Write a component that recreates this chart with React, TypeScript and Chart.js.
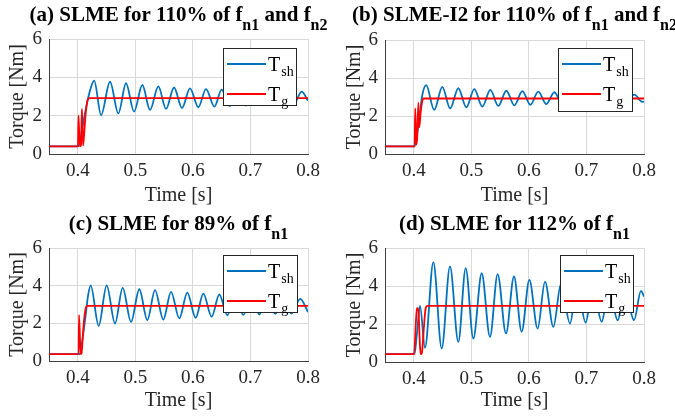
import React, { useEffect, useRef } from "react";
import { Chart, registerables } from "chart.js";
Chart.register(...registerables);

const FONT = "'Liberation Serif', 'Times New Roman', serif";
const X_MIN = 0.35;
const X_MAX = 0.8;
const xTicks = [0.4, 0.5, 0.6, 0.7, 0.8];
const yTicks = [0, 2, 4, 6];
const xLabel = "Time [s]";
const yLabel = "Torque [Nm]";
const legendNames = [
  { main: "T", sub: "sh" },
  { main: "T", sub: "g" },
];

// (a) SLME 110% fn1 & fn2
const aShT = [0.35, 0.4008, 0.4045, 0.4125, 0.42, 0.4285, 0.4405, 0.456, 0.4705, 0.4838, 0.4977, 0.5122, 0.5255, 0.54, 0.5533, 0.5672, 0.5811, 0.595, 0.6094, 0.6228, 0.6373, 0.65, 0.664, 0.678, 0.692, 0.706, 0.72, 0.733, 0.747, 0.761, 0.775, 0.789, 0.8];
const aShV = [0.4, 0.4, 0.8, 2.12, 3.17, 3.83, 2.03, 3.77, 2.12, 3.69, 2.21, 3.6, 2.3, 3.53, 2.35, 3.47, 2.4, 3.42, 2.44, 3.39, 2.47, 3.36, 2.5, 3.33, 2.52, 3.3, 2.54, 3.28, 2.56, 3.26, 2.58, 3.25, 2.78];
const aGT = [0.35, 0.4003, 0.4012, 0.4035, 0.4055, 0.4072, 0.4092, 0.411, 0.414, 0.4175, 0.4205, 0.8];
const aGV = [0.4, 0.4, 2.0, 0.4, 0.45, 2.35, 0.45, 1.0, 2.2, 2.85, 2.92, 2.92];

// (b) SLME-I2 110% fn1 & fn2
const bShT = [0.35, 0.4012, 0.405, 0.4105, 0.4145, 0.4215, 0.4355, 0.4495, 0.4633, 0.4774, 0.4913, 0.5052, 0.5191, 0.533, 0.5469, 0.5608, 0.5747, 0.5886, 0.6025, 0.6164, 0.6303, 0.6442, 0.6581, 0.672, 0.686, 0.6998, 0.714, 0.7276, 0.742, 0.7554, 0.769, 0.7832, 0.797, 0.8];
const bShV = [0.4, 0.4, 0.9, 2.1, 3.05, 3.62, 2.32, 3.53, 2.4, 3.46, 2.45, 3.41, 2.49, 3.37, 2.53, 3.33, 2.56, 3.31, 2.59, 3.28, 2.62, 3.25, 2.64, 3.22, 2.66, 3.2, 2.68, 3.18, 2.7, 3.16, 2.72, 3.12, 2.74, 2.76];
const bGT = [0.35, 0.4015, 0.4025, 0.4045, 0.406, 0.408, 0.4095, 0.412, 0.4145, 0.417, 0.8];
const bGV = [0.4, 0.4, 2.4, 0.5, 0.9, 2.7, 1.4, 2.2, 2.75, 2.92, 2.92];

// (c) SLME 89% fn1
const cShT = [0.35, 0.4035, 0.407, 0.4137, 0.418, 0.4224, 0.4363, 0.4502, 0.4647, 0.478, 0.4925, 0.5069, 0.5208, 0.5342, 0.5486, 0.562, 0.5764, 0.5903, 0.6048, 0.6181, 0.6326, 0.6459, 0.6598, 0.6737, 0.6876, 0.7015, 0.7154, 0.7293, 0.7432, 0.7571, 0.771, 0.7865, 0.8];
const cShV = [0.37, 0.37, 0.9, 2.44, 3.5, 4.02, 1.87, 4.02, 1.99, 3.88, 2.08, 3.81, 2.17, 3.76, 2.2, 3.67, 2.26, 3.63, 2.29, 3.58, 2.35, 3.53, 2.43, 3.48, 2.45, 3.44, 2.47, 3.4, 2.5, 3.35, 2.52, 3.3, 2.6];
const cGT = [0.35, 0.4015, 0.4022, 0.405, 0.4065, 0.4085, 0.411, 0.4135, 0.416, 0.8];
const cGV = [0.37, 0.37, 2.44, 0.37, 0.4, 1.2, 2.2, 2.75, 2.93, 2.93];

// (d) SLME 112% fn1
const dShT = [0.35, 0.4012, 0.4055, 0.4108, 0.4195, 0.434, 0.4485, 0.4629, 0.4774, 0.4902, 0.5035, 0.518, 0.5324, 0.5457, 0.5602, 0.5741, 0.5874, 0.6008, 0.6152, 0.628, 0.6425, 0.6558, 0.6714, 0.6836, 0.6986, 0.7114, 0.7264, 0.7392, 0.7542, 0.767, 0.7826, 0.7948, 0.8];
const dShV = [0.41, 0.41, 1.5, 2.95, 0.75, 5.26, 0.71, 5.03, 1.06, 4.94, 1.23, 4.67, 1.32, 4.62, 1.5, 4.5, 1.59, 4.32, 1.76, 4.23, 1.85, 4.12, 2.03, 4.02, 2.08, 3.94, 2.12, 3.88, 2.2, 3.8, 2.2, 3.74, 3.45];
const dGT = [0.35, 0.4005, 0.4035, 0.4055, 0.408, 0.4105, 0.412, 0.414, 0.4175, 0.4205, 0.4235, 0.8];
const dGV = [0.41, 0.41, 2.0, 2.85, 2.75, 1.0, 0.41, 0.45, 1.8, 2.8, 2.95, 2.95];

type Seg = { t: string; sub?: boolean };
const titleA: Seg[] = [{ t: "(a) SLME for 110% of f" }, { t: "n1", sub: true }, { t: " and f" }, { t: "n2", sub: true }];
const titleB: Seg[] = [{ t: "(b) SLME-I2 for 110% of f" }, { t: "n1", sub: true }, { t: " and f" }, { t: "n2", sub: true }];
const titleC: Seg[] = [{ t: "(c) SLME for 89% of f" }, { t: "n1", sub: true }];
const titleD: Seg[] = [{ t: "(d) SLME for 112% of f" }, { t: "n1", sub: true }];

type Panel = {
  key: string;
  left: number; top: number; w: number; h: number;
  area: { l: number; t: number; r: number; b: number };
  title: Seg[];
  shT: number[]; shV: number[]; gT: number[]; gV: number[];
  leg: { right: number; top: number; w: number; h: number };
  xPad: number;
};

const panels: Panel[] = [
  { key: "a", left: 0, top: 0, w: 337, h: 209, area: { l: 49, t: 39, r: 308, b: 154 }, title: titleA, shT: aShT, shV: aShV, gT: aGT, gV: aGV, leg: { right: 11, top: 9, w: 74, h: 58 }, xPad: 1 },
  { key: "b", left: 337, top: 0, w: 338, h: 209, area: { l: 48, t: 40, r: 307, b: 154 }, title: titleB, shT: bShT, shV: bShV, gT: bGT, gV: bGV, leg: { right: 11, top: 8, w: 75, h: 64 }, xPad: 1 },
  { key: "c", left: 0, top: 209, w: 337, h: 209, area: { l: 49, t: 39, r: 308, b: 152 }, title: titleC, shT: cShT, shV: cShV, gT: cGT, gV: cGV, leg: { right: 10, top: 7, w: 75, h: 58 }, xPad: 5 },
  { key: "d", left: 337, top: 209, w: 338, h: 209, area: { l: 48, t: 39, r: 307, b: 153 }, title: titleD, shT: dShT, shV: dShV, gT: dGT, gV: dGV, leg: { right: 10, top: 7, w: 74, h: 58 }, xPad: 5 },
];

const zip = (t: number[], v: number[]) => t.map((x, i) => ({ x, y: v[i] }));

function PanelChart({ p }: { p: Panel }) {
  const ref = useRef<HTMLCanvasElement | null>(null);
  useEffect(() => {
    if (!ref.current) return;
    const titlePlugin = {
      id: "segTitle",
      afterDraw(chart: any) {
        const ctx = chart.ctx as CanvasRenderingContext2D;
        const ca = chart.chartArea;
        ctx.save();
        const mainF = `bold 21px ${FONT}`;
        const subF = `bold 16px ${FONT}`;
        let total = 0;
        const widths = p.title.map((s) => {
          ctx.font = s.sub ? subF : mainF;
          const w = ctx.measureText(s.t).width;
          total += w;
          return w;
        });
        let x = (ca.left + ca.right) / 2 - total / 2;
        ctx.fillStyle = "#000";
        ctx.textBaseline = "alphabetic";
        ctx.textAlign = "left";
        p.title.forEach((s, i) => {
          ctx.font = s.sub ? subF : mainF;
          ctx.fillText(s.t, x, s.sub ? 30 : 21);
          x += widths[i];
        });
        ctx.restore();
      },
    };
    const legendPlugin = {
      id: "subLegend",
      afterDraw(chart: any) {
        const ctx = chart.ctx as CanvasRenderingContext2D;
        const ca = chart.chartArea;
        const lg = p.leg;
        const bx = Math.round(ca.right - lg.right - lg.w);
        const by = Math.round(ca.top + lg.top);
        ctx.save();
        ctx.fillStyle = "#fff";
        ctx.fillRect(bx, by, lg.w, lg.h);
        ctx.strokeStyle = "#262626";
        ctx.lineWidth = 1;
        ctx.strokeRect(bx + 0.5, by + 0.5, lg.w - 1, lg.h - 1);
        const colors = ["#0072BD", "#FF0000"];
        legendNames.forEach((n, i) => {
          const ly = by + 16 + i * 30;
          ctx.strokeStyle = colors[i];
          ctx.lineWidth = 1.8;
          ctx.beginPath();
          ctx.moveTo(bx + 4, ly);
          ctx.lineTo(bx + 43, ly);
          ctx.stroke();
          ctx.fillStyle = "#000";
          ctx.textBaseline = "alphabetic";
          ctx.textAlign = "left";
          ctx.font = `20px ${FONT}`;
          ctx.fillText(n.main, bx + 45, ly + 7);
          const tw = ctx.measureText(n.main).width;
          ctx.font = `14px ${FONT}`;
          ctx.fillText(n.sub, bx + 45 + tw + 1, ly + 12);
        });
        ctx.restore();
      },
    };
    const chart = new Chart(ref.current, {
      type: "line",
      data: {
        datasets: [
          { label: "Tg", data: zip(p.gT, p.gV), borderColor: "#FF0000", borderWidth: 1.8, pointRadius: 0, cubicInterpolationMode: "monotone", fill: false },
          { label: "Tsh", data: zip(p.shT, p.shV), borderColor: "#0072BD", borderWidth: 1.8, pointRadius: 0, cubicInterpolationMode: "monotone", fill: false },
        ],
      } as any,
      options: {
        responsive: false,
        animation: false,
        devicePixelRatio: 1,
        layout: { padding: { left: 0, top: p.area.t, right: p.w - p.area.r, bottom: 0 } },
        plugins: { legend: { display: false }, tooltip: { enabled: false }, title: { display: false } },
        scales: {
          x: {
            type: "linear",
            min: X_MIN,
            max: X_MAX,
            afterBuildTicks: (s: any) => { s.ticks = xTicks.map((v) => ({ value: v })); },
            afterFit: (s: any) => { s.height = p.h - p.area.b; },
            grid: { color: "#d9d9d9", drawTicks: false, lineWidth: 1 },
            border: { color: "#404040", width: 1 },
            ticks: { font: { family: FONT, size: 19 }, color: "#262626", padding: 6, maxRotation: 0, autoSkip: false, callback: (v: any) => Number(v).toFixed(1) },
            title: { display: true, text: xLabel, font: { family: FONT, size: 20 }, color: "#262626", padding: { top: 0, bottom: p.xPad } },
          },
          y: {
            min: 0,
            max: 6,
            afterBuildTicks: (s: any) => { s.ticks = yTicks.map((v) => ({ value: v })); },
            afterFit: (s: any) => { s.width = p.area.l; },
            grid: { color: "#d9d9d9", drawTicks: false, lineWidth: 1 },
            border: { color: "#404040", width: 1 },
            ticks: { font: { family: FONT, size: 19 }, color: "#262626", padding: 7, autoSkip: false, callback: (v: any) => String(v) },
            title: { display: true, text: yLabel, font: { family: FONT, size: 20 }, color: "#262626", padding: { top: 6, bottom: 0 } },
          },
        },
      } as any,
      plugins: [titlePlugin, legendPlugin],
    });
    return () => chart.destroy();
  }, [p]);
  return (
    <canvas
      ref={ref}
      width={p.w}
      height={p.h}
      style={{ position: "absolute", left: p.left, top: p.top, width: p.w, height: p.h }}
    />
  );
}

export default function App() {
  return (
    <div style={{ position: "fixed", left: 0, top: 0, width: 675, height: 418, background: "#fff", overflow: "hidden" }}>
      {panels.map((p) => (
        <PanelChart key={p.key} p={p} />
      ))}
    </div>
  );
}
